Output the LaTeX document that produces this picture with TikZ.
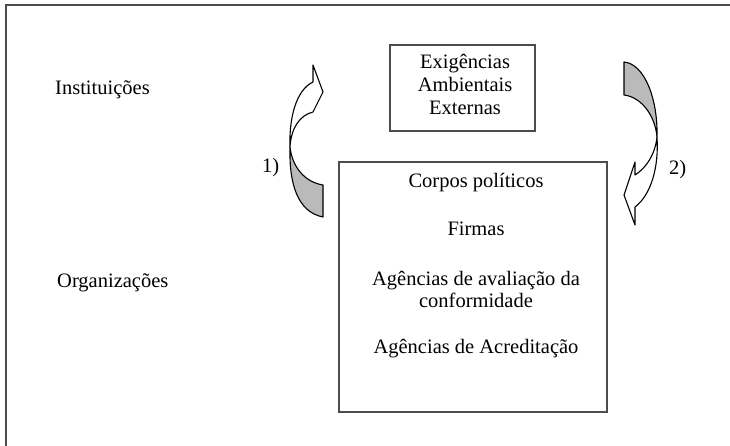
\documentclass[tikz,border=0pt]{standalone}
\usepackage{fontspec}
\setmainfont{Liberation Serif}
\begin{document}
\begin{tikzpicture}[x=1pt,y=-1pt,
  lbl/.style={font=\fontsize{20.5}{23}\selectfont, inner sep=0pt, anchor=base},
  lblw/.style={lbl, anchor=base west},
  boxframe/.style={draw=black!70, line width=1.1pt, inner sep=0pt},
  arrowline/.style={draw=black, line width=1.1pt, line join=round},
  shade/.style={arrowline, fill=black!27},
  light/.style={arrowline, fill=white},
]
\useasboundingbox (0,0) rectangle (730,446);
\draw[black!70, line width=1.6pt] (6,446) -- (6,5) -- (730,5);

% boxes
\node[boxframe, minimum width=145pt, minimum height=86pt] (top) at (462.5,88) {};
\node[boxframe, minimum width=268pt, minimum height=250pt] (org) at (473,287) {};

% top box text
\node[lbl] (t1) at (465,69) {Exigências};
\node[lbl] (t2) at (465,92) {Ambientais};
\node[lbl] (t3) at (465,115) {Externas};

% big box text
\node[lbl] (o1) at (476,188) {Corpos políticos};
\node[lbl] (o2) at (476,236) {Firmas};
\node[lbl] (o3) at (476,285) {Agências de avaliação da};
\node[lbl] (o4) at (476,307) {conformidade};
\node[lbl] (o5) at (476,353) {Agências de Acreditação};

% side labels
\node[lblw] (inst) at (55,95) {Instituições};
\node[lblw] (orgs) at (57,287) {Organizações};
\node[lblw] (n1) at (262,173) {1)};
\node[lblw] (n2) at (669,175) {2)};

% left curved arrow (1)
\path[shade] (290,147) .. controls (289,185) and (298,212) .. (323,217)
  -- (323,185) .. controls (304,182) and (292,166) .. (290,147) -- cycle;
\path[light] (290,147) .. controls (289,118) and (296,90) .. (313,82)
  -- (313,65) -- (323,92) -- (313,112)
  .. controls (300,115) and (291,128) .. (290,147) -- cycle;

% right curved arrow (2)
\path[shade] (624,62) .. controls (645,64) and (658,100) .. (657,137)
  .. controls (655,115) and (641,97) .. (624,95) -- cycle;
\path[light] (657,137) .. controls (659,167) and (651,195) .. (635,207)
  -- (635,225) -- (624,195) -- (635,162) -- (635,175)
  .. controls (646,168) and (655,155) .. (657,137) -- cycle;
\end{tikzpicture}
\end{document}
